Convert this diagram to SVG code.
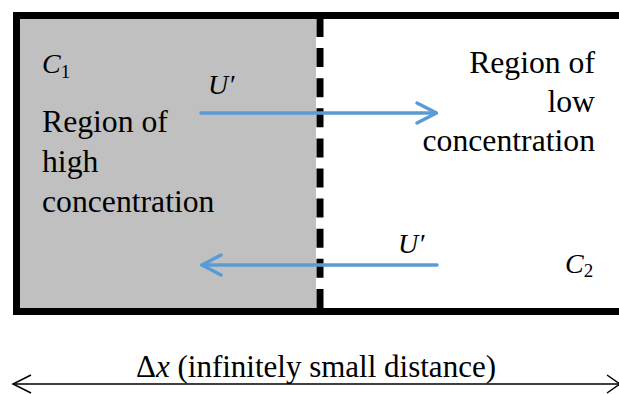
<svg xmlns="http://www.w3.org/2000/svg" width="619" height="394" viewBox="0 0 619 394">
<style>
.t{font-family:"Liberation Serif","Times New Roman",serif;font-size:31.7px;fill:#000}
.m{font-family:"Liberation Serif","Times New Roman",serif;font-style:italic;font-size:28px;fill:#000}
.s{font-style:normal;font-size:19px}
.blue{stroke:#5B9BD5;stroke-width:3.5;fill:none;stroke-linecap:round;stroke-linejoin:round}
.dim{stroke:#000;stroke-width:1.5;fill:none}
</style>
<rect width="619" height="394" fill="#fff"/>
<g id="high-region">
<rect x="20" y="19" width="296" height="289" fill="#C0C0C0"/>
<text class="m" x="42" y="73">C<tspan class="s" dy="5">1</tspan></text>
<text class="t" x="42" y="132">Region of</text>
<text class="t" x="42" y="172">high</text>
<text class="t" x="42" y="212">concentration</text>
</g>
<g id="low-region">
<text class="t" x="595" y="73" text-anchor="end">Region of</text>
<text class="t" x="595" y="112" text-anchor="end">low</text>
<text class="t" x="595" y="151" text-anchor="end">concentration</text>
<text class="m" x="565" y="273">C<tspan class="s" dy="4">2</tspan></text>
</g>
<g id="frame">
<rect x="16.5" y="15.5" width="620" height="296" fill="none" stroke="#000" stroke-width="7"/>
<line x1="320" y1="18" x2="320" y2="309" stroke="#000" stroke-width="7" stroke-dasharray="19 11.1"/>
</g>
<g id="connectors">
<line class="blue" x1="201" y1="113" x2="436" y2="113"/>
<polyline class="blue" points="417,103 436.5,113 417,123"/>
<text class="m" x="208" y="94">U′</text>
<line class="blue" x1="437" y1="265" x2="202" y2="265"/>
<polyline class="blue" points="221,255 202,265 221,275"/>
<text class="m" x="398" y="253">U′</text>
<line class="dim" x1="13" y1="384" x2="619" y2="384"/>
<polyline class="dim" points="31,375 13,384 31,393"/>
<polyline class="dim" points="607,375 620,384 607,393"/>
<text class="t" x="316" y="377" text-anchor="middle" style="font-size:31px">Δ<tspan font-style="italic">x</tspan> (infinitely small distance)</text>
</g>
</svg>
